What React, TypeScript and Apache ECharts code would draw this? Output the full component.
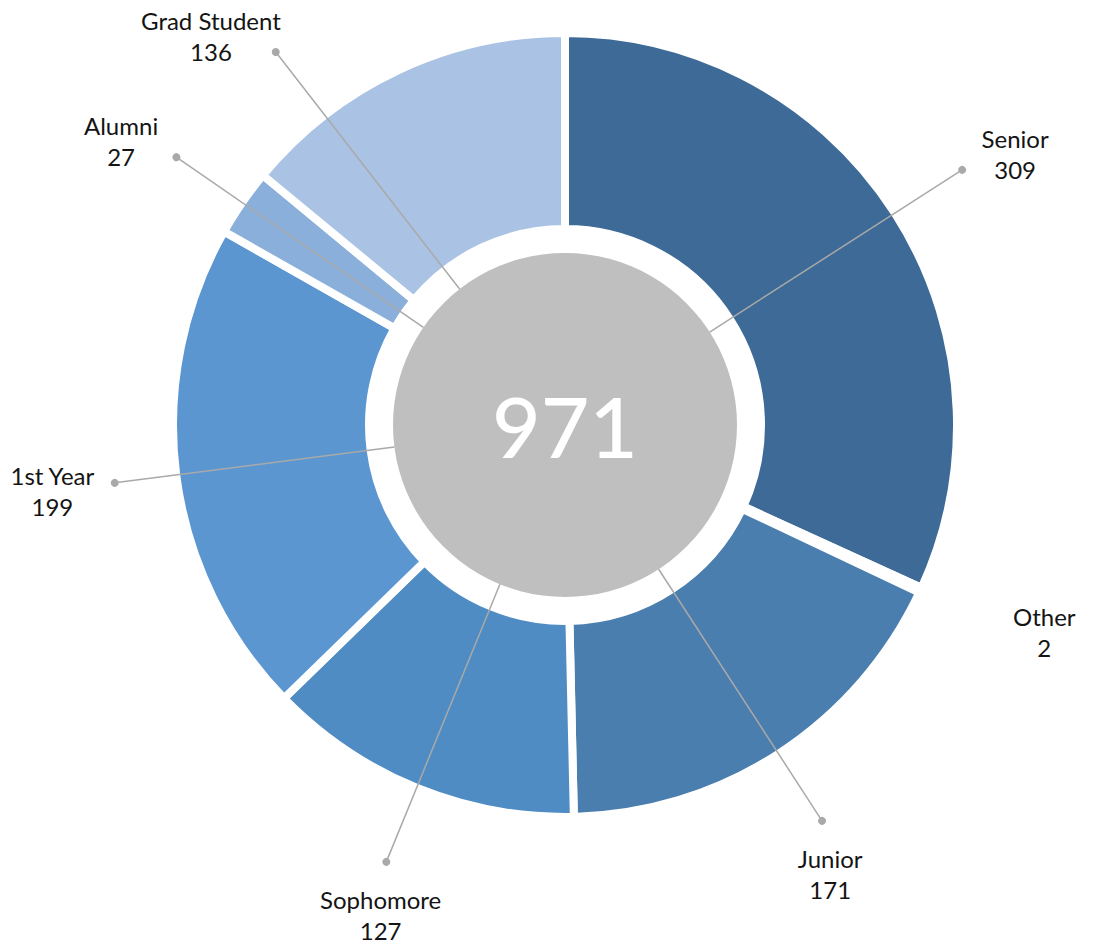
import React, { useEffect, useRef } from "react";
import * as echarts from "echarts";

// ---- data ----
const categories = ["Senior", "Other", "Junior", "Sophomore", "1st Year", "Alumni", "Grad Student"];
const counts = [309, 2, 171, 127, 199, 27, 136];
const sliceColors = ["#3d6a96", "#4176a4", "#4a7eae", "#508cc4", "#5b96d1", "#8aafdb", "#aac3e4"];

const total = counts.reduce((a, b) => a + b, 0);
const starts: number[] = [];
counts.reduce((acc, v) => {
  starts.push(acc);
  return acc + v;
}, 0);

// ---- layout ----
const W = 1095;
const H = 949;
const CX = 565;
const CY = 425;
const R_OUT = 388;
const R_IN = 200;
const R_CORE = 172;
const GAP = 8;
const R_DOT = 472;
const LABEL_TOP = 52;
const EDGE = 10;
const FONT_FAMILY = "Lato, 'Open Sans', sans-serif";
const FS = 24;
const LINE_H = 31;

const measureCtx = typeof document !== "undefined" ? document.createElement("canvas").getContext("2d") : null;
function textWidth(s: string): number {
  if (!measureCtx) return s.length * FS * 0.55;
  measureCtx.font = `${FS}px ${FONT_FAMILY}`;
  return measureCtx.measureText(s).width;
}

export default function App() {
  const ref = useRef<HTMLDivElement>(null);

  useEffect(() => {
    if (!ref.current) return;
    const chart = echarts.init(ref.current, null, { renderer: "svg" });

    const labelData = counts.map((v, i) => [R_CORE, starts[i] + v / 2, i]);

    const renderItem = (params: any, api: any) => {
      const i = api.value(2) as number;
      const mid = api.value(1) as number;
      const c = api.coord([0, mid]);
      const a = api.coord([R_CORE, mid]);
      let ux = (a[0] - c[0]) / R_CORE;
      let uy = (a[1] - c[1]) / R_CORE;
      // keep the label below the top edge: rotate toward horizontal
      if (c[1] + uy * R_DOT < LABEL_TOP) {
        const sy = (LABEL_TOP - c[1]) / R_DOT;
        uy = sy;
        ux = Math.sign(ux || 1) * Math.sqrt(1 - sy * sy);
      }

      const name = categories[i];
      const val = String(counts[i]);
      const w = Math.max(textWidth(name), textWidth(val));
      const below = uy > 0.7;
      const k = Math.min(1, Math.abs(ux) / 0.85);
      const sideOffset = (w / 2 + 20) * k;

      // keep side labels inside the left / right edges: shorten the line
      let R = R_DOT;
      if (!below && Math.abs(ux) > 1e-6) {
        const room =
          ux < 0 ? c[0] - (EDGE + sideOffset + w / 2) : W - EDGE - sideOffset - w / 2 - c[0];
        R = Math.min(R, room / Math.abs(ux));
      }

      const ex = c[0] + ux * R;
      const ey = c[1] + uy * R;
      const sx = c[0] + ux * R_CORE;
      const sy2 = c[1] + uy * R_CORE;

      let tx: number;
      let ty: number;
      if (below) {
        tx = ex + ux * 15;
        ty = ey + 22 + LINE_H;
      } else {
        tx = ex + Math.sign(ux) * sideOffset;
        ty = ey + (uy > 0 ? 8 : -16);
      }
      const showLine = counts[i] / total >= 0.01;
      const children: any[] = [];
      if (showLine) {
        children.push({
          type: "line",
          shape: { x1: sx, y1: sy2, x2: ex, y2: ey },
          style: { stroke: "#a9a9a9", lineWidth: 1.5 },
        });
        children.push({
          type: "circle",
          shape: { cx: ex, cy: ey, r: 4 },
          style: { fill: "#a9a9a9" },
        });
      }
      children.push({
        type: "text",
        x: tx,
        y: ty,
        style: {
          text: name + "\n" + val,
          fill: "#141414",
          font: `${FS}px ${FONT_FAMILY}`,
          lineHeight: LINE_H,
          align: "center",
          verticalAlign: "middle",
        },
      });
      return { type: "group", children };
    };

    chart.setOption({
      animation: false,
      backgroundColor: "#ffffff",
      polar: { center: [CX, CY], radius: R_OUT },
      angleAxis: {
        type: "value",
        min: 0,
        max: total,
        startAngle: 90,
        clockwise: true,
        show: false,
        axisLine: { show: false },
        axisTick: { show: false },
        axisLabel: { show: false },
        splitLine: { show: false },
      },
      radiusAxis: {
        type: "value",
        min: 0,
        max: R_OUT,
        show: false,
        axisLine: { show: false },
        axisTick: { show: false },
        axisLabel: { show: false },
        splitLine: { show: false },
      },
      series: [
        {
          type: "pie",
          center: [CX, CY],
          radius: [R_IN - GAP / 2, R_OUT + GAP / 2],
          startAngle: 90,
          clockwise: true,
          silent: true,
          avoidLabelOverlap: false,
          itemStyle: { borderColor: "#ffffff", borderWidth: GAP },
          label: { show: false },
          labelLine: { show: false },
          emphasis: { disabled: true },
          data: categories.map((n, i) => ({
            name: n,
            value: counts[i],
            itemStyle: { color: sliceColors[i] },
          })),
        },
        {
          type: "pie",
          center: [CX, CY],
          radius: [0, R_CORE],
          silent: true,
          emphasis: { disabled: true },
          itemStyle: { color: "#bfbfbf" },
          labelLine: { show: false },
          label: {
            show: true,
            position: "center",
            formatter: String(total),
            fontSize: 84,
            fontWeight: 500,
            color: "#ffffff",
            fontFamily: FONT_FAMILY,
          },
          data: [{ name: "Total", value: total }],
        },
        {
          type: "custom",
          coordinateSystem: "polar",
          silent: true,
          clip: false,
          z: 10,
          data: labelData,
          renderItem,
        },
      ],
    });

    return () => chart.dispose();
  }, []);

  return (
    <div
      ref={ref}
      style={{ position: "fixed", left: 0, top: 0, width: W, height: H, background: "#fff" }}
    />
  );
}
